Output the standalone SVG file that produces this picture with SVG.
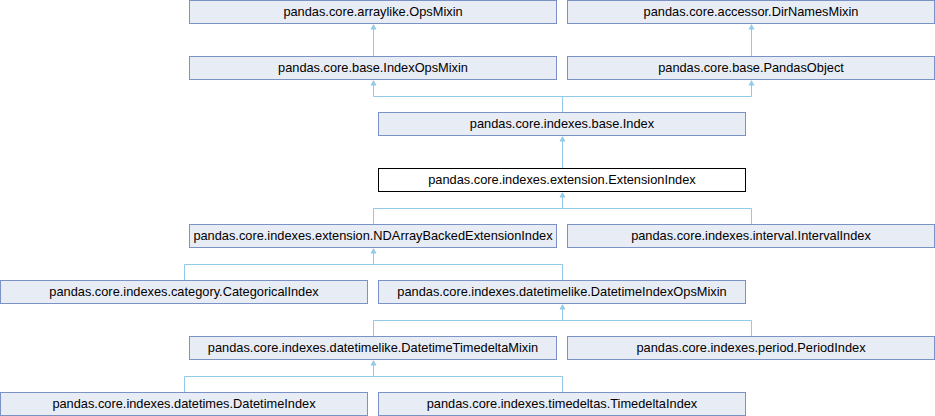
<svg xmlns="http://www.w3.org/2000/svg" width="935" height="416" viewBox="0 0 935 416">
<style>
.n rect{fill:#e8ecf5;stroke:#7a92c6;stroke-width:1}
.n.cur rect{fill:#ffffff;stroke:#000000}
.n text{font-family:"Liberation Sans",Arial,sans-serif;font-size:12.8px;fill:#000;text-anchor:middle}
#edges path{fill:none;stroke:#92c9e8;stroke-width:1}
#edges polygon{fill:#92c9e8;stroke:none}
</style>
<rect width="935" height="416" fill="#ffffff"/>
<g id="edges">
<path d="M373.5 56.5V28"/><polygon points="373.5,24 370.5,29.5 376.5,29.5"/>
<path d="M751.5 56.5V28"/><polygon points="751.5,24 748.5,29.5 754.5,29.5"/>
<path d="M373.5 84V96.5H751.5V84M562.5 96.5V112.5"/><polygon points="373.5,80 370.5,85.5 376.5,85.5"/><polygon points="751.5,80 748.5,85.5 754.5,85.5"/>
<path d="M562.5 168.5V140"/><polygon points="562.5,136 559.5,141.5 565.5,141.5"/>
<path d="M562.5 196V208.5M373.5 224.5V208.5H751.5V224.5"/><polygon points="562.5,192 559.5,197.5 565.5,197.5"/>
<path d="M373.5 252V264.5M184.5 280.5V264.5H562.5V280.5"/><polygon points="373.5,248 370.5,253.5 376.5,253.5"/>
<path d="M562.5 308V320.5M373.5 336.5V320.5H751.5V336.5"/><polygon points="562.5,304 559.5,309.5 565.5,309.5"/>
<path d="M373.5 364V376.5M184.5 392.5V376.5H562.5V392.5"/><polygon points="373.5,360 370.5,365.5 376.5,365.5"/>
</g>
<g id="OpsMixin" class="n"><rect x="189.5" y="0.5" width="367" height="23"/><text x="373" y="16">pandas.core.arraylike.OpsMixin</text></g>
<g id="DirNamesMixin" class="n"><rect x="567.5" y="0.5" width="367" height="23"/><text x="751" y="16">pandas.core.accessor.DirNamesMixin</text></g>
<g id="IndexOpsMixin" class="n"><rect x="189.5" y="56.5" width="367" height="23"/><text x="373" y="72">pandas.core.base.IndexOpsMixin</text></g>
<g id="PandasObject" class="n"><rect x="567.5" y="56.5" width="367" height="23"/><text x="751" y="72">pandas.core.base.PandasObject</text></g>
<g id="Index" class="n"><rect x="378.5" y="112.5" width="367" height="23"/><text x="562" y="128">pandas.core.indexes.base.Index</text></g>
<g id="ExtensionIndex" class="n cur"><rect x="378.5" y="168.5" width="367" height="23"/><text x="562" y="184">pandas.core.indexes.extension.ExtensionIndex</text></g>
<g id="NDArrayBackedExtensionIndex" class="n"><rect x="189.5" y="224.5" width="367" height="23"/><text x="373" y="240">pandas.core.indexes.extension.NDArrayBackedExtensionIndex</text></g>
<g id="IntervalIndex" class="n"><rect x="567.5" y="224.5" width="367" height="23"/><text x="751" y="240">pandas.core.indexes.interval.IntervalIndex</text></g>
<g id="CategoricalIndex" class="n"><rect x="0.5" y="280.5" width="367" height="23"/><text x="184" y="296">pandas.core.indexes.category.CategoricalIndex</text></g>
<g id="DatetimeIndexOpsMixin" class="n"><rect x="378.5" y="280.5" width="367" height="23"/><text x="562" y="296">pandas.core.indexes.datetimelike.DatetimeIndexOpsMixin</text></g>
<g id="DatetimeTimedeltaMixin" class="n"><rect x="189.5" y="336.5" width="367" height="23"/><text x="373" y="352">pandas.core.indexes.datetimelike.DatetimeTimedeltaMixin</text></g>
<g id="PeriodIndex" class="n"><rect x="567.5" y="336.5" width="367" height="23"/><text x="751" y="352">pandas.core.indexes.period.PeriodIndex</text></g>
<g id="DatetimeIndex" class="n"><rect x="0.5" y="392.5" width="367" height="23"/><text x="184" y="408">pandas.core.indexes.datetimes.DatetimeIndex</text></g>
<g id="TimedeltaIndex" class="n"><rect x="378.5" y="392.5" width="367" height="23"/><text x="562" y="408">pandas.core.indexes.timedeltas.TimedeltaIndex</text></g>
</svg>
